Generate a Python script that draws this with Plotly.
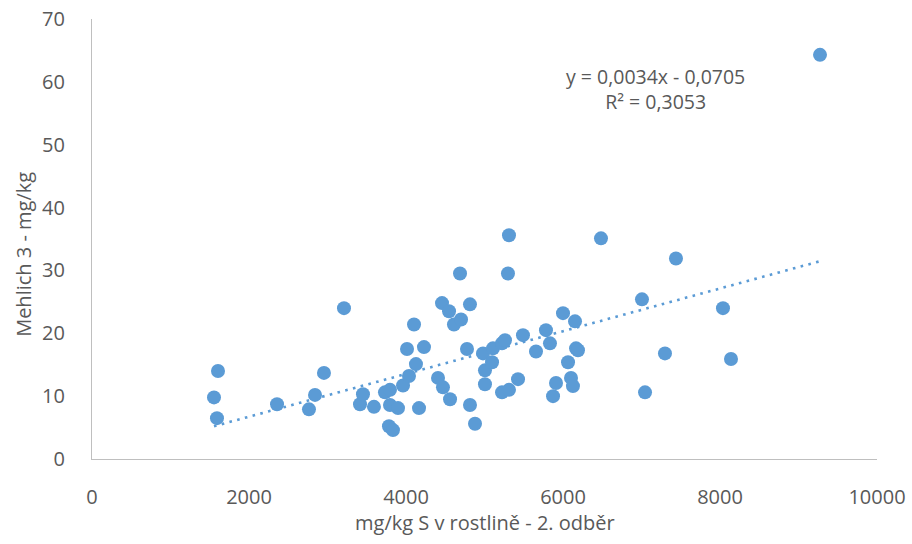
import numpy as np
import plotly.graph_objects as go

# mg/kg S v rostlině - 2. odběr
s_plant = [1554, 1605, 1592, 2357, 2764, 2841, 2955, 3210, 3414, 3452,
           3592, 3732, 3796, 3796, 3783, 3834, 3898, 3962, 4013, 4038,
           4102, 4127, 4229, 4166, 4408, 4459, 4471, 4548, 4561, 4611,
           4688, 4701, 4777, 4815, 4815, 4879, 4981, 5006, 5006, 5096,
           5108, 5223, 5261, 5223, 5312, 5312, 5299, 5427, 5490, 5656,
           5783, 5834, 5873, 5911, 6000, 6064, 6102, 6127, 6153, 6166,
           6191, 6484, 7006, 7045, 7299, 7439, 8038, 8140, 9274]
# Mehlich 3 - mg/kg
mehlich3 = [9.8, 14.0, 6.5, 8.7, 7.9, 10.2, 13.7, 24.0, 8.7, 10.3,
            8.3, 10.6, 11.0, 8.6, 5.2, 4.6, 8.1, 11.7, 17.5, 13.2,
            21.4, 15.1, 17.8, 8.1, 12.9, 24.8, 11.4, 23.5, 9.5, 21.4,
            29.5, 22.2, 17.5, 24.6, 8.6, 5.6, 16.8, 14.1, 11.9, 15.4,
            17.6, 18.4, 18.9, 10.6, 11.0, 35.6, 29.5, 12.7, 19.7, 17.1,
            20.5, 18.4, 10.0, 12.1, 23.2, 15.4, 12.9, 11.6, 21.9, 17.6,
            17.3, 35.1, 25.4, 10.6, 16.8, 31.9, 24.0, 15.9, 64.3]

slope = 0.0034
intercept = -0.0705
r2 = 0.3053

x_ticks = [0, 2000, 4000, 6000, 8000, 10000]
y_ticks = [0, 10, 20, 30, 40, 50, 60, 70]

BLUE = "#5B9BD5"
GREY_TXT = "#595959"
AXIS = "#BFBFBF"
FONT = "Open Sans"

xs = np.array([min(s_plant), max(s_plant)], dtype=float)
ys = slope * xs + intercept

fig = go.Figure()
fig.add_trace(go.Scatter(
    x=xs, y=ys, mode="lines",
    line=dict(color=BLUE, width=2.6, dash="2.6px,5.4px"),
    hoverinfo="skip", showlegend=False,
))
fig.add_trace(go.Scatter(
    x=s_plant, y=mehlich3, mode="markers",
    marker=dict(color=BLUE, size=14, line=dict(width=0)),
    showlegend=False,
))

fig.update_layout(
    width=912, height=544,
    margin=dict(l=92, r=35, t=19, b=85, autoexpand=False),
    paper_bgcolor="white", plot_bgcolor="white",
    font=dict(family=FONT, color=GREY_TXT, size=20),
    xaxis=dict(
        range=[0, 10000], tickvals=x_ticks, ticktext=[str(v) for v in x_ticks],
        showgrid=False, zeroline=False, showline=True, linecolor=AXIS, linewidth=1.3,
        ticks="", ticklabelstandoff=20, automargin=False, ticklabeloverflow="allow",
        tickfont=dict(size=20, color=GREY_TXT),
    ),
    yaxis=dict(
        range=[0, 70], tickvals=y_ticks, ticktext=[str(v) for v in y_ticks],
        showgrid=False, zeroline=False, showline=True, linecolor=AXIS, linewidth=1.3,
        ticks="", ticklabelstandoff=22, automargin=False, ticklabeloverflow="allow",
        tickfont=dict(size=20, color=GREY_TXT),
    ),
    annotations=[
        dict(text="mg/kg S v rostlině - 2. odběr", xref="paper", yref="paper",
             x=0.5, y=-0.145, xanchor="center", yanchor="middle", showarrow=False,
             font=dict(size=20, color=GREY_TXT, family=FONT)),
        dict(text="Mehlich 3 - mg/kg", xref="paper", yref="paper",
             x=-0.0866, y=0.464, xanchor="center", yanchor="middle", showarrow=False,
             textangle=-90, font=dict(size=20, color=GREY_TXT, family=FONT)),
        dict(text="y = 0,0034x - 0,0705<br>R² = 0,3053", xref="paper", yref="paper",
             x=0.718, y=0.842, xanchor="center", yanchor="middle", showarrow=False,
             align="center", font=dict(size=19.5, color=GREY_TXT, family=FONT)),
    ],
)

# remove the browser's default 8px body margin so the figure fills the window
fig.write_html("out.html",
               config={"displayModeBar": False},
               post_script="document.body.style.margin='0px';document.body.style.overflow='hidden';")
